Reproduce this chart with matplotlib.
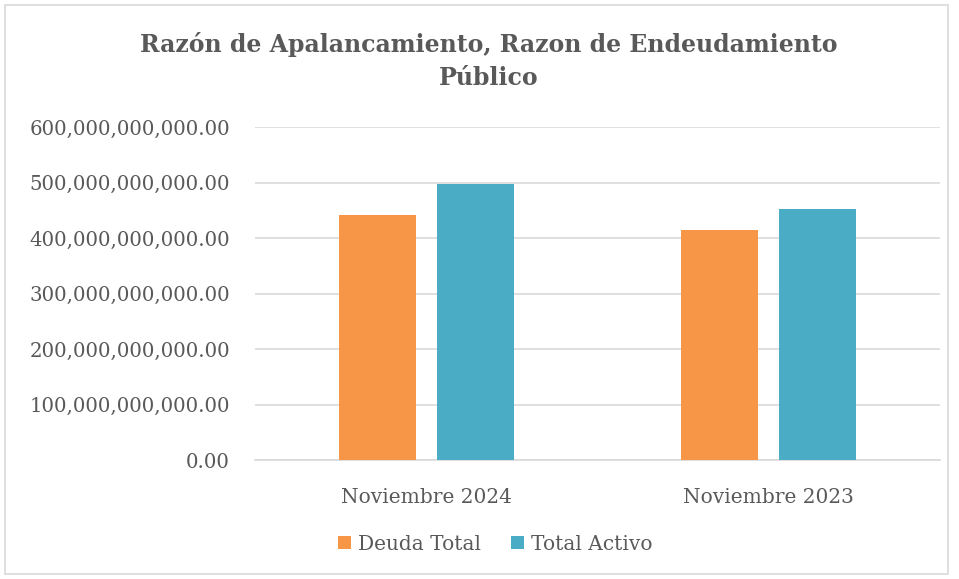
import numpy as np
import matplotlib.pyplot as plt
from matplotlib.patches import Rectangle
from matplotlib.ticker import FuncFormatter

categories = ["Noviembre 2024", "Noviembre 2023"]
deuda_total = [440.6e9, 413.7e9]
total_activo = [497.7e9, 452.7e9]
yticks = [0, 100e9, 200e9, 300e9, 400e9, 500e9, 600e9]

ORANGE = "#F79646"
TEAL = "#4BACC6"
TEXT = "#595959"
GRID = "#D9D9D9"

plt.rcParams["font.family"] = ["DejaVu Serif"]

fig = plt.figure(figsize=(9.59, 5.79), dpi=100)
ax = fig.add_axes([255 / 959, 1 - 460 / 579, 685 / 959, 333 / 579])

x = np.arange(len(categories))
w = 0.225
off = 0.143
ax.bar(x - off, deuda_total, w, color=ORANGE, label="Deuda Total", zorder=3)
ax.bar(x + off, total_activo, w, color=TEAL, label="Total Activo", zorder=3)

ax.set_xlim(-0.5, 1.5)
ax.set_ylim(0, 600e9)
ax.set_yticks(yticks)
ax.yaxis.set_major_formatter(FuncFormatter(lambda v, p: f"{v:,.2f}"))
ax.set_xticks(x)
ax.set_xticklabels(categories)
ax.tick_params(axis="both", length=0, colors=TEXT)
ax.tick_params(axis="y", labelsize=14.2, pad=18)
ax.tick_params(axis="x", labelsize=14.5, pad=20)
ax.grid(axis="y", color=GRID, linewidth=1.2, zorder=0)
for s in ["top", "right", "left"]:
    ax.spines[s].set_visible(False)
ax.spines["bottom"].set_color(GRID)
ax.spines["bottom"].set_linewidth(1.2)

fig.text(489 / 959, 1 - 61 / 579, "Razón de Apalancamiento, Razon de Endeudamiento\nPúblico",
         ha="center", va="center", fontsize=17, fontweight="bold", color=TEXT, linespacing=1.45)

fig.legend(loc="center", bbox_to_anchor=(495 / 959, 1 - 544 / 579), ncol=2, frameon=False,
           fontsize=14.5, labelcolor=TEXT, handlelength=0.65, handleheight=0.65,
           handletextpad=0.35, columnspacing=1.5)

fig.patches.append(Rectangle((5 / 959, 5 / 579), 943 / 959, 569 / 579, transform=fig.transFigure,
                             fill=False, edgecolor=GRID, linewidth=1.2))

fig.savefig("out.png", dpi=100)
